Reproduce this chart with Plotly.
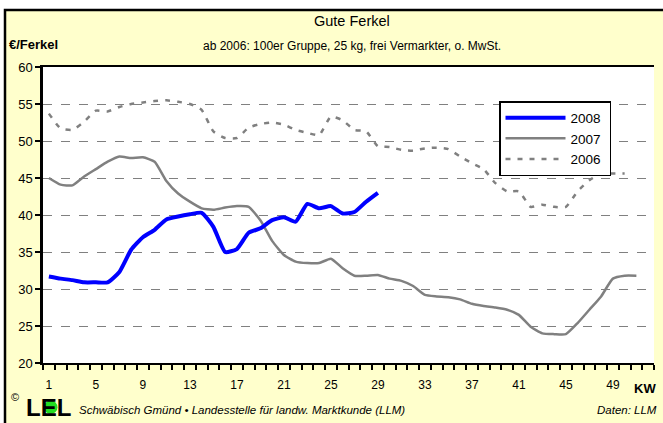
import plotly.graph_objects as go

weeks_2008 = list(range(1, 30))
price_2008 = [31.7, 31.4, 31.2, 30.9, 30.9, 30.9, 32.3, 35.3, 37.0, 38.0,
              39.4, 39.8, 40.1, 40.3, 38.4, 35.0, 35.4, 37.6, 38.2, 39.3,
              39.7, 39.1, 41.5, 40.9, 41.2, 40.2, 40.4, 41.8, 43.0]

weeks_2007 = list(range(1, 52))
price_2007 = [45.0, 44.1, 44.0, 45.2, 46.2, 47.2, 47.9, 47.7, 47.8, 47.2,
              44.6, 42.9, 41.8, 40.9, 40.7, 41.0, 41.2, 41.1, 39.3, 36.5,
              34.6, 33.7, 33.5, 33.5, 34.1, 32.8, 31.8, 31.8, 31.9, 31.4,
              31.1, 30.4, 29.2, 29.0, 28.9, 28.6, 28.0, 27.7, 27.5, 27.2,
              26.5, 24.9, 24.0, 23.9, 23.9, 25.4, 27.2, 29.0, 31.4, 31.8, 31.8]

weeks_2006 = list(range(1, 51))
price_2006 = [53.7, 51.7, 51.5, 52.6, 54.1, 54.0, 54.6, 55.0, 55.2, 55.4,
              55.5, 55.3, 55.0, 54.2, 51.3, 50.4, 50.4, 51.8, 52.3, 52.5,
              52.2, 51.5, 51.1, 50.8, 53.3, 52.8, 51.5, 51.3, 49.3, 49.2,
              48.8, 48.7, 49.0, 49.1, 48.9, 47.9, 47.0, 46.2, 44.3, 43.2,
              43.2, 41.1, 41.4, 41.1, 41.1, 43.2, 44.7, 45.6, 45.6, 45.6]

x_tickvals = [1, 5, 9, 13, 17, 21, 25, 29, 33, 37, 41, 45, 49]
y_tickvals = [20, 25, 30, 35, 40, 45, 50, 55, 60]

FONT = "Liberation Sans, Arial, sans-serif"
W, H = 663, 423
L, R, T, B = 43, 9, 67, 60
PW, PH = W - L - R, H - T - B


def px(x):
    return (x - L) / PW


def py(y):
    return (H - B - y) / PH


NB = "\u00a0"

fig = go.Figure()
fig.add_trace(go.Scatter(x=weeks_2006, y=price_2006, name="2006" + NB, mode="lines",
                         line=dict(color="#808080", width=2.5, dash="5px,7px",
                                   shape="spline", smoothing=0.5)))
fig.add_trace(go.Scatter(x=weeks_2007, y=price_2007, name="2007" + NB, mode="lines",
                         line=dict(color="#808080", width=2.5,
                                   shape="spline", smoothing=0.5)))
fig.add_trace(go.Scatter(x=weeks_2008, y=price_2008, name="2008" + NB, mode="lines",
                         line=dict(color="#0000FF", width=4,
                                   shape="spline", smoothing=0.5)))

shapes = [
    # white strips outside the yellow chart area
    dict(type="rect", xref="paper", yref="paper", x0=px(-5), x1=px(670),
         y0=py(10), y1=py(-5), fillcolor="white", line=dict(width=0)),
    dict(type="rect", xref="paper", yref="paper", x0=px(-5), x1=px(5),
         y0=py(430), y1=py(-5), fillcolor="white", line=dict(width=0)),
    dict(type="path", xref="paper", yref="paper",
         path=f"M {px(5)},{py(430)} L {px(5)},{py(10)} L {px(670)},{py(10)}",
         line=dict(color="black", width=2.5)),
    # green dot of logo
    dict(type="circle", xref="paper", yref="paper",
         x0=px(44), x1=px(57.5), y0=py(414), y1=py(400.5),
         fillcolor="#22DD22", line=dict(width=0)),
]

annotations = [
    dict(text="Gute Ferkel", x=px(352), y=py(21), font=dict(size=14.5)),
    dict(text="ab 2006: 100er Gruppe, 25 kg, frei Vermarkter, o. MwSt.",
         x=px(352), y=py(46), font=dict(size=12)),
    dict(text="<b>€/Ferkel</b>", x=px(7), y=py(45), xanchor="left",
         font=dict(size=13)),
    dict(text="<b>KW</b>", x=px(645), y=py(388), font=dict(size=13)),
    dict(text="©", x=px(15), y=py(397), font=dict(size=11)),
    dict(text="<b>LEL</b>", x=px(48), y=py(407), font=dict(size=24)),
    dict(text="<i>Schwäbisch Gmünd • Landesstelle für landw. Marktkunde (LLM)</i>",
         x=px(77), y=py(410), xanchor="left", font=dict(size=11.5)),
    dict(text="<i>Daten: LLM</i>", x=px(659), y=py(410), xanchor="right",
         font=dict(size=11.5)),
]
for a in annotations:
    a.setdefault("xanchor", "center")
    a.update(xref="paper", yref="paper", yanchor="middle", showarrow=False)
    a["font"].update(family=FONT, color="black")

fig.update_layout(
    width=W, height=H,
    margin=dict(l=L, r=R, t=T, b=B),
    paper_bgcolor="#FFFFCC",
    plot_bgcolor="white",
    font=dict(family=FONT, color="black", size=12),
    showlegend=True,
    legend=dict(x=px(499), y=py(101), xanchor="left", yanchor="top",
                bgcolor="white", bordercolor="black", borderwidth=1.5,
                traceorder="reversed", font=dict(size=13.5, family=FONT),
                itemwidth=60, tracegroupgap=0),
    shapes=shapes,
    annotations=annotations,
    xaxis=dict(range=[0.5, 52.5], tickvals=x_tickvals,
               ticktext=[str(v) for v in x_tickvals],
               ticks="outside", ticklen=10, tickcolor="rgba(0,0,0,0)",
               showgrid=False, zeroline=False,
               showline=True, linecolor="black", linewidth=1.5, mirror=True,
               minor=dict(tick0=0.5, dtick=1, ticks="outside", ticklen=5,
                          tickcolor="black", tickwidth=1.5, showgrid=False),
               tickfont=dict(size=12)),
    yaxis=dict(range=[20, 60], tickvals=y_tickvals,
               ticks="outside", ticklen=5, tickcolor="black", tickwidth=1.5,
               showgrid=True, gridcolor="#808080", gridwidth=1, griddash="dash",
               zeroline=False, showline=True, linecolor="black", linewidth=2.5,
               tickfont=dict(size=13)),
)

fig.write_html("out.html", config={"displayModeBar": False},
               post_script="document.body.style.margin='0';document.body.style.padding='0';")
